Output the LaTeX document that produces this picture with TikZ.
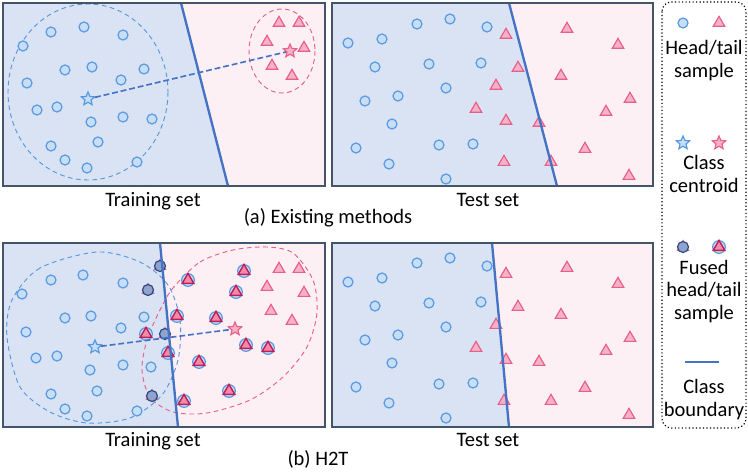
\documentclass[tikz,border=0pt]{standalone}
\usepackage{fontspec}
\setmainfont{Carlito}
\usepackage{tikz}
\usetikzlibrary{shapes.geometric}
\definecolor{HeadBg}{RGB}{218,227,243}
\definecolor{TailBg}{RGB}{253,240,245}
\definecolor{HeadLine}{RGB}{84,152,226}
\definecolor{HeadFill}{RGB}{200,222,245}
\definecolor{TailLine}{RGB}{232,96,138}
\definecolor{TailFill}{RGB}{244,178,198}
\definecolor{FusedLine}{RGB}{47,70,130}
\definecolor{FusedFill}{RGB}{143,164,204}
\definecolor{FusedPink}{RGB}{192,30,90}
\definecolor{FusedPinkFill}{RGB}{240,140,170}
\definecolor{BoundBlue}{RGB}{68,114,196}
\definecolor{FrameGray}{RGB}{68,84,106}

\begin{document}
\begin{tikzpicture}[x=0.03cm,y=-0.03cm,font=\fontsize{17.5}{19.2}\selectfont,
  head/.style={circle,draw=HeadLine,fill=HeadFill,line width=1pt,minimum size=0.3cm,inner sep=0pt},
  tail/.style={regular polygon,regular polygon sides=3,draw=TailLine,fill=TailFill,line width=1pt,minimum size=0.4cm,inner sep=0pt},
  fusedhead/.style={circle,draw=FusedLine,fill=FusedFill,line width=1pt,minimum size=0.33cm,inner sep=0pt},
  fusedtail/.style={regular polygon,regular polygon sides=3,draw=FusedPink,fill=FusedPinkFill,line width=1.2pt,minimum size=0.4cm,inner sep=0pt},
  underhead/.style={head,minimum size=0.38cm},
  centroid/.style={star,star points=5,star point ratio=2.2,line width=1pt,minimum size=0.42cm,inner sep=0pt},
  headzone/.style={draw=HeadLine,dashed,dash pattern=on 4pt off 3pt,line width=0.8pt},
  tailzone/.style={draw=TailLine,dashed,dash pattern=on 4pt off 3pt,line width=0.8pt},
  link/.style={draw=BoundBlue,dashed,dash pattern=on 5pt off 2.5pt,line width=1.4pt},
  boundary/.style={draw=BoundBlue,line width=2pt},
  frame/.style={draw=FrameGray,line width=1.2pt},
  legendtext/.style={anchor=base,align=center}]
  \useasboundingbox (0,0) rectangle (748,472);

  % (a) training set
  \coordinate (b1t) at (181,3);
  \coordinate (b1b) at (228,186);
  \fill[HeadBg] (3,3) -- (b1t) -- (b1b) -- (3,186) -- cycle;
  \fill[TailBg] (b1t) -- (325,3) -- (325,186) -- (b1b) -- cycle;
  \draw[headzone] (88,92) ellipse [x radius=80, y radius=88];
  \draw[tailzone] (282,51) ellipse [x radius=33, y radius=42];
  \foreach \p [count=\i] in {(23,46),(51,32),(84,27),(123,35),(65,70),(92,67),(144,69),(27,83),(121,80),(37,110),(57,107),(91,122),(123,117),(152,119),(51,146),(98,142),(65,160),(87,168),(137,162)}
    \node[head] (ha\i) at \p {};
  \foreach \p [count=\i] in {(279,23),(299,23),(267,42),(304,48),(272,66),(292,76)}
    \node[tail] (ta\i) at \p {};
  \node[centroid,draw=HeadLine,fill=HeadFill] (ca1) at (88,99) {};
  \node[centroid,draw=TailLine,fill=TailFill] (ca2) at (290,51) {};
  \draw[link] (ca1) -- (ca2);
  \draw[boundary] (b1t) -- (b1b);
  \draw[frame] (3,3) rectangle (325,186);
  \node[anchor=base] (traina) at (153,206) {Training set};

  % (a) test set
  \coordinate (b2t) at (509,3);
  \coordinate (b2b) at (557,186);
  \fill[HeadBg] (332,3) -- (b2t) -- (b2b) -- (332,186) -- cycle;
  \fill[TailBg] (b2t) -- (653,3) -- (653,186) -- (b2b) -- cycle;
  \foreach \p [count=\i] in {(348,43),(382,39),(417,24),(450,19),(487,27),(375,67),(429,64),(481,63),(446,88),(365,101),(398,96),(392,124),(356,148),(439,145),(473,144),(389,164),(446,179)}
    \node[head] (hb\i) at \p {};
  \foreach \p [count=\i] in {(506,35),(518,68),(496,86),(476,109),(506,121),(539,123),(504,162),(551,162),(567,29),(618,45),(561,76),(630,99),(606,112),(585,149),(629,176)}
    \node[tail] (tb\i) at \p {};
  \draw[boundary] (b2t) -- (b2b);
  \draw[frame] (332,3) rectangle (653,186);
  \node[anchor=base] (testa) at (488,206) {Test set};
  \node[anchor=base] (capa) at (328,223) {(a) Existing methods};

  % (b) training set
  \coordinate (b3t) at (160,243);
  \coordinate (b3b) at (178,427);
  \fill[HeadBg] (3,243) -- (b3t) -- (b3b) -- (3,427) -- cycle;
  \fill[TailBg] (b3t) -- (325,243) -- (325,427) -- (b3b) -- cycle;
  \draw[headzone] plot[smooth cycle] coordinates {(97,252) (40,268) (12,300) (7,337) (20,387) (50,412) (87,423) (130,418) (162,395) (178,360) (180,320) (168,285) (140,262)};
  \draw[tailzone] plot[smooth cycle] coordinates {(173,288) (200,262) (233,250) (267,247) (293,253) (313,280) (317,313) (307,347) (283,377) (250,400) (207,413) (173,412) (150,397) (142,370) (147,340) (160,310)};
  \foreach \p [count=\i] in {(22,294),(51,280),(83,275),(123,283),(65,318),(91,316),(144,317),(26,332),(121,328),(36,358),(57,356),(90,370),(123,365),(151,367),(51,394),(97,391),(65,409),(87,416),(137,411)}
    \node[head] (hc\i) at \p {};
  \foreach \p [count=\i] in {(279,269),(299,269),(267,287),(304,293),(271,311),(292,321)}
    \node[tail] (tc\i) at \p {};
  \foreach \p [count=\i] in {(160,266),(148,290),(165,334),(152,396)} {
    \node[tail,minimum size=0.38cm] (fhu\i) at \p {};
    \node[fusedhead] (fh\i) at \p {};
  }
  \foreach \p [count=\i] in {(188,280),(244,271),(236,292),(177,316),(216,318),(146,334),(168,353),(246,345),(268,348),(199,362),(229,391),(184,401)} {
    \node[underhead] (ftu\i) at \p {};
    \node[fusedtail] (ft\i) at \p {};
  }
  \node[centroid,draw=HeadLine,fill=HeadFill] (cc1) at (95,347) {};
  \node[centroid,draw=TailLine,fill=TailFill] (cc2) at (235,329) {};
  \draw[link] (cc1) -- (cc2);
  \draw[boundary] (b3t) -- (b3b);
  \draw[frame] (3,243) rectangle (325,427);
  \node[anchor=base] (trainb) at (153,446) {Training set};

  % (b) test set
  \coordinate (b4t) at (492,243);
  \coordinate (b4b) at (509,427);
  \fill[HeadBg] (332,243) -- (b4t) -- (b4b) -- (332,427) -- cycle;
  \fill[TailBg] (b4t) -- (653,243) -- (653,427) -- (b4b) -- cycle;
  \begin{scope}[yshift=-239*0.03cm]
    \foreach \p [count=\i] in {(348,43),(382,39),(417,24),(450,19),(487,27),(375,67),(429,64),(481,63),(446,88),(365,101),(398,96),(392,124),(356,148),(439,145),(473,144),(389,164),(446,179)}
      \node[head] (hd\i) at \p {};
    \foreach \p [count=\i] in {(506,35),(518,68),(496,86),(476,109),(506,121),(539,123),(504,162),(551,162),(567,29),(618,45),(561,76),(630,99),(606,112),(585,149),(629,176)}
      \node[tail] (td\i) at \p {};
  \end{scope}
  \draw[boundary] (b4t) -- (b4b);
  \draw[frame] (332,243) rectangle (653,427);
  \node[anchor=base] (testb) at (488,446) {Test set};
  \node[anchor=base] (capb) at (318,465) {(b) H2T};

  % legend
  \draw[dotted,line width=1pt,rounded corners=8pt] (662,2) rectangle (746,428);
  \node[head] (lh) at (683,23) {};
  \node[tail] (lt) at (719,23) {};
  \node[legendtext] (lhtxt) at (704,77) {Head/tail\\sample};
  \node[centroid,draw=HeadLine,fill=HeadFill] (lch) at (683,143) {};
  \node[centroid,draw=TailLine,fill=TailFill] (lct) at (719,143) {};
  \node[legendtext] (lctxt) at (704,192) {Class\\centroid};
  \node[tail,minimum size=0.38cm] (lfhu) at (683,247) {};
  \node[fusedhead] (lfh) at (683,247) {};
  \node[underhead] (lftu) at (719,247) {};
  \node[fusedtail] (lft) at (719,247) {};
  \node[legendtext] (lftxt) at (704,319) {Fused\\head/tail\\sample};
  \coordinate (lbl) at (685,362);
  \coordinate (lbr) at (719,362);
  \draw[boundary] (lbl) -- (lbr);
  \node[legendtext] (lbtxt) at (704,416) {Class\\boundary};
\end{tikzpicture}
\end{document}
